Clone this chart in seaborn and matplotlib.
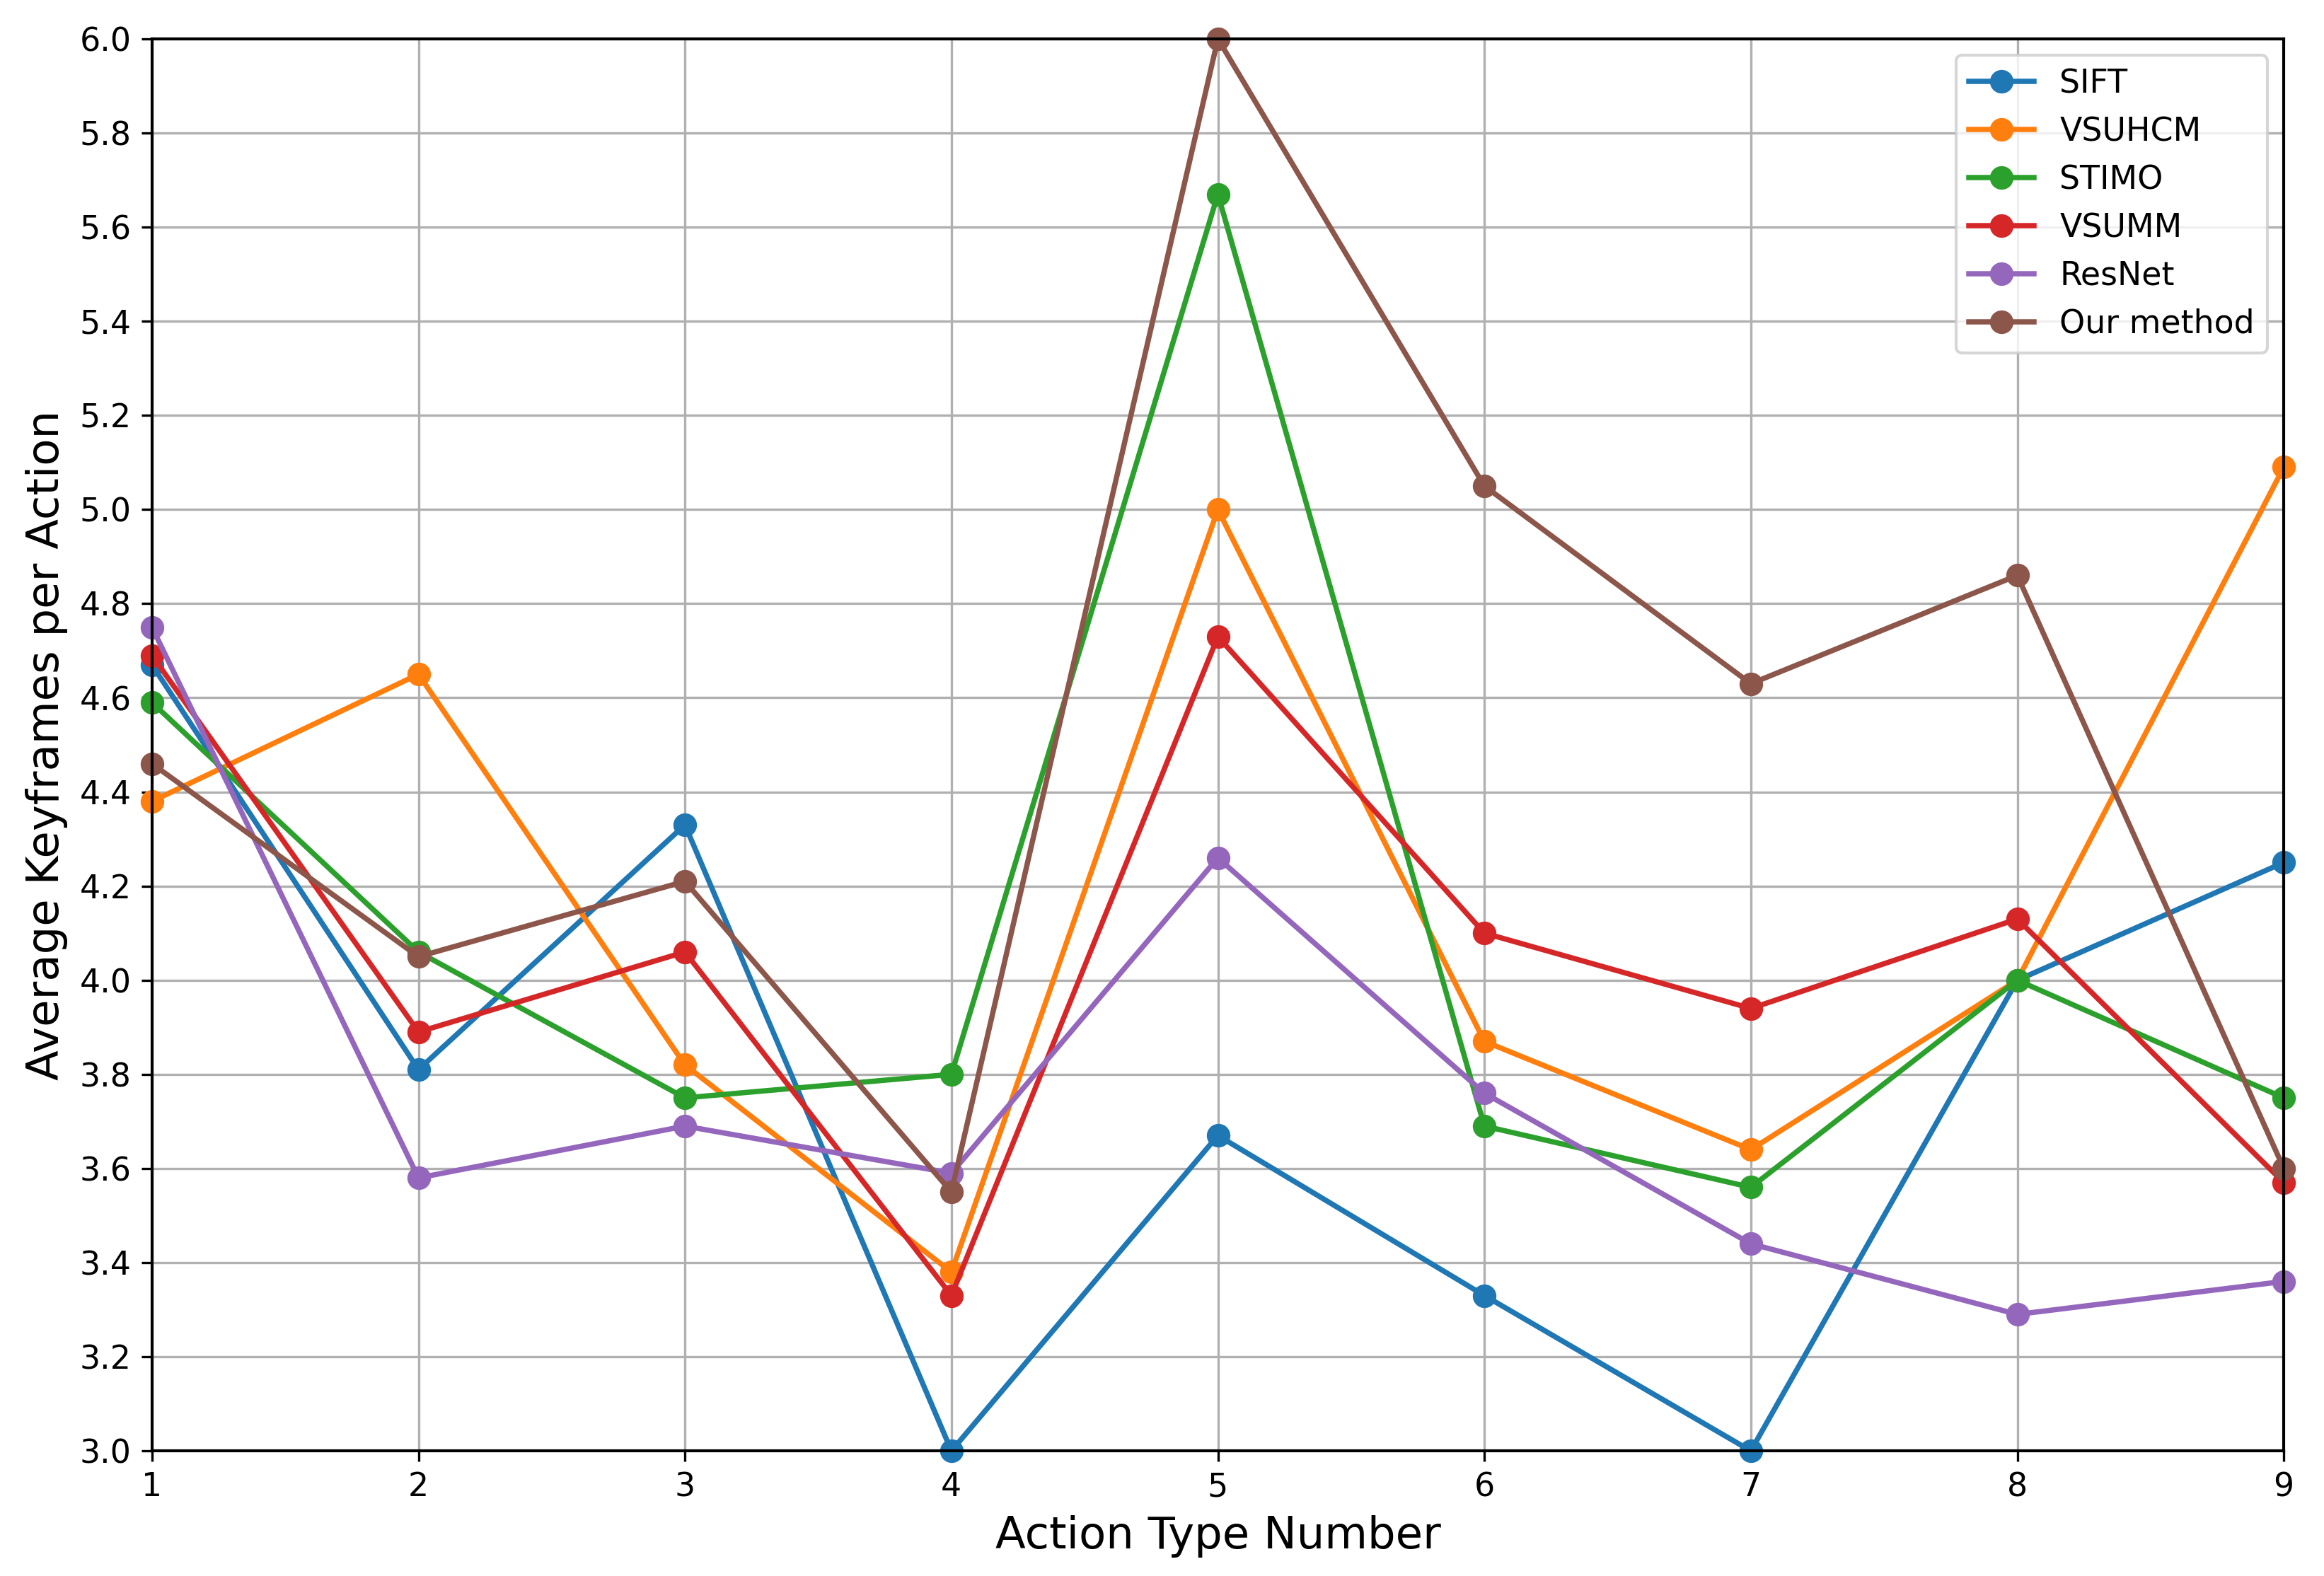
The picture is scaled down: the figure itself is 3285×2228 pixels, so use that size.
import matplotlib

matplotlib.use("Agg")
import matplotlib.pyplot as plt
import numpy as np
import pandas as pd
import seaborn as sns

# ============================================================
# Data
# ============================================================
ACTIONS = [1, 2, 3, 4, 5, 6, 7, 8, 9]
METHODS = ["SIFT", "VSUHCM", "STIMO", "VSUMM", "ResNet", "Our method"]

sift = [4.67, 3.81, 4.33, 3.00, 3.67, 3.33, 3.00, 4.00, 4.25]
vsuhcm = [4.38, 4.65, 3.82, 3.38, 5.00, 3.87, 3.64, 4.00, 5.09]
stimo = [4.59, 4.06, 3.75, 3.80, 5.67, 3.69, 3.56, 4.00, 3.75]
vsumm = [4.69, 3.89, 4.06, 3.33, 4.73, 4.10, 3.94, 4.13, 3.57]
resnet = [4.75, 3.58, 3.69, 3.59, 4.26, 3.76, 3.44, 3.29, 3.36]
ours = [4.46, 4.05, 4.21, 3.55, 6.00, 5.05, 4.63, 4.86, 3.60]

Y_TICKS = [3.0, 3.2, 3.4, 3.6, 3.8, 4.0, 4.2, 4.4, 4.6, 4.8, 5.0, 5.2, 5.4, 5.6, 5.8, 6.0]


def build_frame() -> pd.DataFrame:
    series = [sift, vsuhcm, stimo, vsumm, resnet, ours]
    rows = []
    for name, values in zip(METHODS, series):
        for a, v in zip(ACTIONS, values):
            rows.append({"action": a, "value": v, "method": name})
    return pd.DataFrame(rows)


def main() -> None:
    df = build_frame()
    palette = sns.color_palette("tab10", n_colors=len(METHODS))

    fig, ax = plt.subplots(figsize=(10.95, 7.427), dpi=300)
    sns.lineplot(
        data=df, x="action", y="value", hue="method", hue_order=METHODS,
        palette=palette, marker="o", markersize=7,
        linewidth=1.8, ax=ax, clip_on=False, zorder=2, legend=False,
    )
    # matplotlib-style markers: edge same colour as the line
    for line in ax.lines:
        line.set_markeredgecolor(line.get_color())
        line.set_markeredgewidth(1.0)

    ax.set_xlim(1, 9)
    ax.set_ylim(3.0, 6.0)
    ax.set_xticks(ACTIONS)
    ax.set_yticks(Y_TICKS)
    ax.set_yticklabels([f"{t:.1f}" for t in Y_TICKS])
    ax.tick_params(labelsize=11)
    ax.grid(True, color="#b0b0b0", linewidth=0.8)
    ax.set_axisbelow(True)
    for s in ax.spines.values():
        s.set_color("black")
        s.set_linewidth(1.0)
        s.set_zorder(3)

    ax.set_xlabel("Action Type Number", fontsize=15)
    ax.set_ylabel("Average Keyframes per Action", fontsize=15)
    ax.legend(ax.lines[:len(METHODS)], METHODS, loc="upper right", fontsize=11)

    fig.subplots_adjust(left=0.0654, right=0.9827, top=0.9753, bottom=0.0794)
    fig.savefig("out.png", dpi=300)
    plt.close(fig)


if __name__ == "__main__":
    main()
